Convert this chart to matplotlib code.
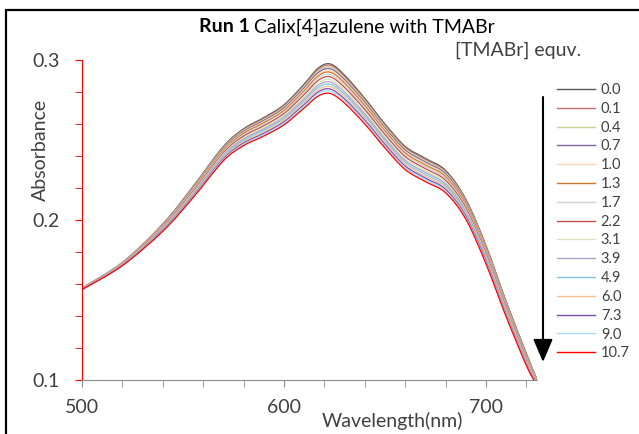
import numpy as np
import matplotlib.pyplot as plt
import matplotlib.patches as patches
from matplotlib.path import Path
from matplotlib.lines import Line2D

# absorbance spectra (one list per TMABr equivalent)
wavelength = [500, 520, 540, 555, 570, 580, 590, 600, 610, 617, 623, 630,
              640, 650, 660, 670, 680, 690, 700, 710, 720, 725]

abs_0_0 = [0.1575, 0.1735, 0.1975, 0.2210, 0.2460, 0.2570, 0.2640, 0.2720, 0.2850, 0.2950, 0.2975,
           0.2905, 0.2760, 0.2600, 0.2460, 0.2385, 0.2310, 0.2130, 0.1840, 0.1490, 0.1165, 0.1010]
abs_0_1 = [0.1574, 0.1734, 0.1973, 0.2206, 0.2455, 0.2565, 0.2634, 0.2714, 0.2842, 0.2941, 0.2966,
           0.2896, 0.2752, 0.2592, 0.2453, 0.2378, 0.2303, 0.2124, 0.1834, 0.1485, 0.1161, 0.1008]
abs_0_4 = [0.1574, 0.1733, 0.1970, 0.2203, 0.2451, 0.2559, 0.2628, 0.2707, 0.2835, 0.2932, 0.2956,
           0.2887, 0.2744, 0.2585, 0.2445, 0.2370, 0.2296, 0.2117, 0.1828, 0.1480, 0.1157, 0.1006]
abs_0_7 = [0.1573, 0.1732, 0.1968, 0.2199, 0.2446, 0.2553, 0.2622, 0.2700, 0.2826, 0.2922, 0.2945,
           0.2877, 0.2734, 0.2576, 0.2437, 0.2362, 0.2288, 0.2110, 0.1822, 0.1475, 0.1153, 0.1004]
abs_1_0 = [0.1573, 0.1731, 0.1965, 0.2195, 0.2440, 0.2547, 0.2615, 0.2692, 0.2817, 0.2911, 0.2934,
           0.2866, 0.2725, 0.2567, 0.2428, 0.2353, 0.2279, 0.2102, 0.1815, 0.1469, 0.1148, 0.1001]
abs_1_3 = [0.1572, 0.1729, 0.1962, 0.2190, 0.2435, 0.2541, 0.2608, 0.2685, 0.2808, 0.2901, 0.2923,
           0.2856, 0.2715, 0.2558, 0.2419, 0.2344, 0.2271, 0.2095, 0.1808, 0.1463, 0.1144, 0.0999]
abs_1_7 = [0.1571, 0.1728, 0.1959, 0.2185, 0.2428, 0.2532, 0.2599, 0.2675, 0.2796, 0.2887, 0.2908,
           0.2842, 0.2702, 0.2546, 0.2408, 0.2333, 0.2260, 0.2085, 0.1799, 0.1456, 0.1138, 0.0996]
abs_2_2 = [0.1571, 0.1726, 0.1955, 0.2179, 0.2420, 0.2524, 0.2589, 0.2665, 0.2784, 0.2873, 0.2894,
           0.2828, 0.2690, 0.2534, 0.2396, 0.2321, 0.2248, 0.2075, 0.1789, 0.1448, 0.1132, 0.0992]
abs_3_1 = [0.1570, 0.1724, 0.1951, 0.2173, 0.2412, 0.2514, 0.2579, 0.2654, 0.2770, 0.2857, 0.2877,
           0.2812, 0.2675, 0.2520, 0.2383, 0.2308, 0.2236, 0.2064, 0.1779, 0.1440, 0.1125, 0.0989]
abs_3_9 = [0.1569, 0.1723, 0.1948, 0.2167, 0.2405, 0.2506, 0.2570, 0.2644, 0.2758, 0.2843, 0.2862,
           0.2798, 0.2662, 0.2508, 0.2372, 0.2297, 0.2225, 0.2054, 0.1770, 0.1432, 0.1119, 0.0986]
abs_4_9 = [0.1568, 0.1721, 0.1944, 0.2162, 0.2398, 0.2498, 0.2561, 0.2634, 0.2746, 0.2829, 0.2847,
           0.2784, 0.2650, 0.2496, 0.2360, 0.2285, 0.2213, 0.2044, 0.1761, 0.1424, 0.1113, 0.0982]
abs_6_0 = [0.1567, 0.1720, 0.1940, 0.2156, 0.2391, 0.2489, 0.2551, 0.2624, 0.2734, 0.2815, 0.2833,
           0.2770, 0.2637, 0.2484, 0.2348, 0.2273, 0.2202, 0.2034, 0.1751, 0.1417, 0.1107, 0.0979]
abs_7_3 = [0.1566, 0.1718, 0.1937, 0.2150, 0.2383, 0.2481, 0.2542, 0.2614, 0.2722, 0.2801, 0.2818,
           0.2756, 0.2624, 0.2472, 0.2337, 0.2262, 0.2191, 0.2024, 0.1742, 0.1409, 0.1101, 0.0976]
abs_9_0 = [0.1566, 0.1717, 0.1934, 0.2146, 0.2377, 0.2473, 0.2534, 0.2605, 0.2712, 0.2789, 0.2805,
           0.2744, 0.2613, 0.2462, 0.2327, 0.2252, 0.2181, 0.2015, 0.1734, 0.1403, 0.1096, 0.0973]
abs_10_7 = [0.1565, 0.1715, 0.1930, 0.2140, 0.2370, 0.2465, 0.2525, 0.2595, 0.2700, 0.2775, 0.2790,
            0.2730, 0.2600, 0.2450, 0.2315, 0.2240, 0.2170, 0.2005, 0.1725, 0.1395, 0.1090, 0.0970]

equiv_labels = ['0.0', '0.1', '0.4', '0.7', '1.0', '1.3', '1.7', '2.2',
                '3.1', '3.9', '4.9', '6.0', '7.3', '9.0', '10.7']
series = [abs_0_0, abs_0_1, abs_0_4, abs_0_7, abs_1_0, abs_1_3, abs_1_7, abs_2_2,
          abs_3_1, abs_3_9, abs_4_9, abs_6_0, abs_7_3, abs_9_0, abs_10_7]
colors = ['#595959', '#C9706D', '#C3D69B', '#8064A2', '#FCD5B5', '#CC7A2E', '#D0D0D0', '#C0504D',
          '#D7E4BD', '#B3A2C7', '#7DC6DB', '#FAC090', '#7E4AB0', '#A5DDF4', '#FF0000']


def smooth_path(x, y):
    # Excel style "smoothed line": bezier segments through every data point
    p = np.column_stack([x, y]).astype(float)
    ext = np.vstack([p[0], p, p[-1]])
    verts = [p[0]]
    codes = [Path.MOVETO]
    for i in range(len(p) - 1):
        c1 = ext[i + 1] + (ext[i + 2] - ext[i]) / 6
        c2 = ext[i + 2] - (ext[i + 3] - ext[i + 1]) / 6
        verts += [c1, c2, ext[i + 2]]
        codes += [Path.CURVE4] * 3
    return Path(verts, codes)


plt.rcParams['font.family'] = ['Lato', 'DejaVu Sans']
txt = '#404040'

W, H = 639, 434
fig = plt.figure(figsize=(W / 100, H / 100), dpi=100)
ax = fig.add_axes([82 / W, 1 - 380 / H, (536.5 - 82) / W, (380 - 60) / H])

handles = []
for vals, lab, col in zip(series, equiv_labels, colors):
    ax.add_patch(patches.PathPatch(smooth_path(wavelength, vals), fill=False,
                                   edgecolor=col, lw=0.9))
    handles.append(Line2D([], [], color=col, lw=1.0, label=lab))

ax.set_xlim(500, 725)
ax.set_ylim(0.1, 0.3)
ax.spines['top'].set_visible(False)
ax.spines['right'].set_visible(False)
ax.spines['left'].set_color('#FF0000')
ax.spines['bottom'].set_color('#8C8C8C')

ax.set_xticks([500, 600, 700], labels=['500', '600', '700'])
ax.set_xticks([520, 540, 560, 580, 620, 640, 660, 680, 720], minor=True)
ax.set_yticks([0.1, 0.2, 0.3], labels=['0.1', '0.2', '0.3'])
ax.set_yticks([0.12, 0.14, 0.16, 0.18, 0.22, 0.24, 0.26, 0.28], minor=True)
ax.tick_params(axis='x', which='both', direction='out', length=5, color='#8C8C8C',
               labelsize=14, pad=9, labelcolor=txt)
ax.tick_params(axis='y', which='both', direction='out', length=5, color='#FF0000',
               labelsize=14, pad=11, labelcolor=txt)

fig.text(40 / W, 1 - 150 / H, 'Absorbance', rotation=90, ha='center', va='center',
         fontsize=14, color=txt)
fig.text(392 / W, 1 - 421 / H, 'Wavelength(nm)', ha='center', va='center',
         fontsize=14, color=txt)

# title with bold "Run 1"
t1 = fig.text(199 / W, 1 - 27 / H, 'Run 1', fontweight='bold', fontsize=14,
              ha='left', va='center', color='black')
ax.annotate('Calix[4]azulene with TMABr', xy=(1, 0.5), xycoords=t1, xytext=(3, 0),
            textcoords='offset points', ha='left', va='center', fontsize=14, color='black')
fig.text(455 / W, 1 - 50 / H, '[TMABr] equv.', ha='left', va='center', fontsize=14, color=txt)

fig.legend(handles=handles, loc='upper left', bbox_to_anchor=(557 / W, 1 - 83 / H),
           frameon=False, fontsize=10.5, handlelength=2.6, handletextpad=0.4,
           labelspacing=0.33, borderpad=0, borderaxespad=0, labelcolor=txt)

ax.annotate('', xy=(543 / W, 1 - 362 / H), xycoords='figure fraction',
            xytext=(543 / W, 1 - 97 / H), textcoords='figure fraction',
            arrowprops=dict(arrowstyle='-|>,head_length=0.7,head_width=0.3', color='black',
                            lw=1.5, mutation_scale=20, shrinkA=0, shrinkB=0))

# chart border (only left and top edges are visible in the crop)
fig.add_artist(patches.Rectangle((6 / W, -0.1), 1.2, 1.1 - 10 / H, transform=fig.transFigure,
                                 fill=False, edgecolor='black', lw=1.6))

fig.savefig('out.png', dpi=100)
